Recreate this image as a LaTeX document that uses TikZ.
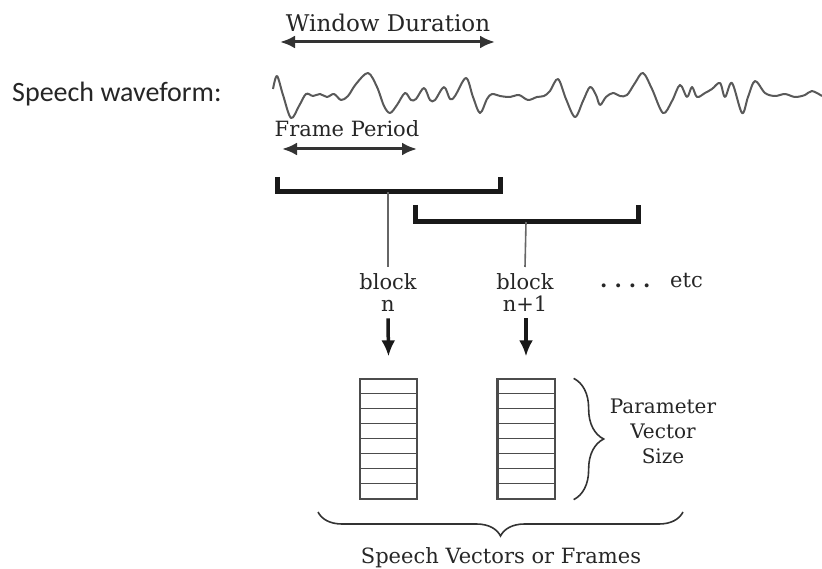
\documentclass[tikz,border=0pt]{standalone}
\usepackage{fontspec}
\setmainfont{DejaVu Serif}
\newfontfamily\wavefont{Carlito}
\usepackage{tikz}
\usetikzlibrary{positioning,arrows.meta,decorations.pathreplacing}

\tikzset{
  lbl/.style={inner sep=0pt, text=black!85, font=\fontsize{21}{22}\selectfont},
  span/.style={{Latex[length=15pt,width=13pt]}-{Latex[length=15pt,width=13pt]}, line width=3pt, black!80},
  bracket/.style={line width=5pt, black!90},
  stem/.style={line width=1.6pt, black!60},
  down/.style={-{Latex[length=16pt,width=14pt]}, line width=3.5pt, black!90},
  vec/.style={draw=black!70, line width=1.3pt, minimum width=57pt, minimum height=120pt, inner sep=0pt},
  cell/.style={black!70, line width=1.1pt},
  curly/.style={decorate, decoration={brace, amplitude=#1}, line width=1.6pt, black!80},
  curly/.default=20pt,
  wave/.style={line width=2pt, black!65, line join=round},
}

\begin{document}
\begin{tikzpicture}[x=1pt,y=-1pt]
  \useasboundingbox (0,0) rectangle (822,569);

  % Define nodes
  \node[lbl, font=\wavefont\fontsize{28}{30}\selectfont, anchor=base west] (speech) at (12,102) {Speech waveform:};
  \node[lbl, font=\fontsize{23}{25}\selectfont, anchor=base] (window) at (388,32) {Window Duration};
  \node[lbl, anchor=base] (frame) at (347,137) {Frame Period};
  \node[lbl, align=center, anchor=north] (blk1) at (388,273) {block\\n};
  \node[lbl, align=center, anchor=north] (blk2) at (525,273) {block\\n+1};
  \node[lbl, anchor=base west] (dots) at (600,288) {\textbf{.\,\,.\,\,.\,\,.}};
  \node[lbl, anchor=base west] (etc) at (670,288) {etc};
  \node[vec] (vec1) at (388.5,439) {};
  \node[vec, minimum width=58pt] (vec2) at (526,439) {};
  \node[lbl, font=\fontsize{20}{25}\selectfont, align=center] (param) at (663,431) {Parameter\\Vector\\Size};
  \node[lbl, anchor=base] (frames) at (501,563) {Speech Vectors or Frames};

  \coordinate (wd-l) at (280,42);
  \coordinate (wd-r) at (495,42);
  \coordinate (fp-l) at (282,149);
  \coordinate (fp-r) at (417,149);
  \coordinate (br1) at (388,192);
  \coordinate (br2) at (526,222);

  % Speech waveform
  \draw[wave] plot[smooth, tension=0.55] coordinates {
    (273,89) (277,76) (283,95) (291,118) (299,106) (306,94) (313,96) (320,94)
    (327,97) (334,94) (341,100) (348,96) (356,84) (368,73) (377,87) (384,106)
    (390,113) (397,105) (405,93) (411,100) (416,99) (424,88) (430,100) (435,100)
    (444,87) (450,99) (455,96) (466,78) (473,97) (480,113) (487,99) (492,94)
    (500,96) (510,97) (519,95) (528,100) (537,97) (544,96) (550,91) (558,79)
    (566,99) (575,117) (583,101) (590,87) (596,95) (600,105) (606,97) (613,93)
    (620,96) (627,95) (635,83) (643,73) (652,89) (663,113) (672,101) (680,85)
    (687,97) (692,87) (697,97) (705,93) (712,89) (720,83) (725,97) (732,83)
    (742,113) (748,97) (755,81) (765,93) (775,96) (785,94) (795,97) (805,95)
    (812,91) (822,96)};

  % Brackets
  \draw[bracket] (277,177) -- (277,192) -- (500,192) -- (500,177);
  \draw[bracket] (415,205) -- (415,222) -- (638,222) -- (638,205);

  % Vector cells
  \foreach \k in {1,...,7} {
    \draw[cell] ([yshift={-\k*15pt}]vec1.north west) -- ([yshift={-\k*15pt}]vec1.north east);
    \draw[cell] ([yshift={-\k*15pt}]vec2.north west) -- ([yshift={-\k*15pt}]vec2.north east);
  }
  \draw[cell] ([xshift=2.5pt]vec2.north west) -- ([xshift=2.5pt]vec2.south west);

  % Connect the nodes
  \draw[span] (wd-l) -- (wd-r);
  \draw[span] (fp-l) -- (fp-r);
  \draw[stem] (br1) -- ([yshift=6pt]blk1.north);
  \draw[stem] (br2) -- ([yshift=6pt]blk2.north);
  \draw[down] ([yshift=-7pt]blk1.south) -- ([yshift=22pt]vec1.north);
  \draw[down] ([yshift=-7pt]blk2.south -| vec2) -- ([yshift=22pt]vec2.north);
  \draw[curly=30pt] ([xshift=18pt]vec2.north east) -- ([xshift=18pt]vec2.south east);
  \draw[curly=24pt] (683,512) -- (318,512);
\end{tikzpicture}
\end{document}
